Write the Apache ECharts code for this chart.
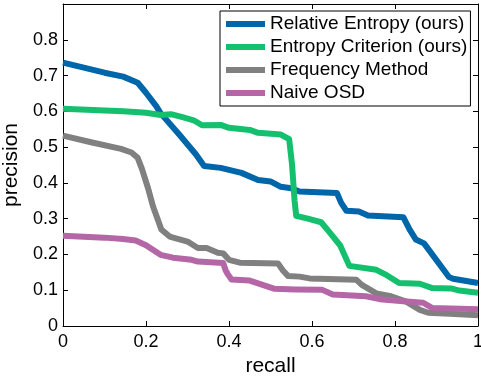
<!DOCTYPE html>
<html>
<head>
<meta charset="utf-8">
<script src="https://cdn.jsdelivr.net/npm/echarts@6/dist/echarts.min.js"></script>
<style>html,body{margin:0;padding:0;background:#fff;}#c{width:481px;height:377px;}</style>
</head>
<body>
<div id="c"></div>
<script>
var seriesNames = ['Relative Entropy (ours)', 'Entropy Criterion (ours)', 'Frequency Method', 'Naive OSD'];
var xTicks = [0, 0.2, 0.4, 0.6, 0.8, 1];
var yTicks = [0, 0.1, 0.2, 0.3, 0.4, 0.5, 0.6, 0.7, 0.8];

var relativeEntropy = [[0,0.736],[0.05,0.722],[0.1,0.708],[0.145,0.697],[0.18,0.68],[0.2,0.652],[0.225,0.614],[0.235,0.595],[0.28,0.535],[0.32,0.48],[0.34,0.447],[0.38,0.442],[0.43,0.428],[0.47,0.408],[0.5,0.404],[0.525,0.389],[0.55,0.385],[0.57,0.376],[0.66,0.372],[0.67,0.345],[0.683,0.322],[0.713,0.32],[0.735,0.309],[0.82,0.304],[0.835,0.27],[0.85,0.242],[0.87,0.231],[0.93,0.137],[0.94,0.132],[1,0.12]];
var entropyCriterion = [[0,0.607],[0.1,0.602],[0.145,0.600],[0.2,0.596],[0.235,0.59],[0.26,0.592],[0.29,0.583],[0.315,0.575],[0.335,0.561],[0.38,0.562],[0.4,0.554],[0.45,0.548],[0.47,0.540],[0.525,0.535],[0.545,0.522],[0.552,0.45],[0.558,0.35],[0.562,0.308],[0.59,0.300],[0.622,0.29],[0.64,0.265],[0.668,0.225],[0.69,0.168],[0.755,0.157],[0.78,0.142],[0.81,0.12],[0.86,0.118],[0.89,0.106],[0.935,0.105],[0.955,0.099],[1,0.093]];
var frequencyMethod = [[0,0.532],[0.07,0.513],[0.14,0.495],[0.165,0.485],[0.18,0.47],[0.19,0.44],[0.205,0.385],[0.217,0.334],[0.237,0.27],[0.257,0.25],[0.3,0.236],[0.325,0.218],[0.346,0.218],[0.373,0.205],[0.386,0.203],[0.4,0.185],[0.426,0.177],[0.518,0.175],[0.53,0.155],[0.542,0.14],[0.57,0.138],[0.594,0.133],[0.707,0.129],[0.72,0.115],[0.755,0.091],[0.787,0.084],[0.827,0.068],[0.86,0.045],[0.88,0.037],[0.932,0.034],[1,0.03]];
var naiveOSD = [[0,0.252],[0.1,0.247],[0.145,0.243],[0.175,0.239],[0.2,0.226],[0.235,0.199],[0.265,0.191],[0.31,0.185],[0.325,0.18],[0.386,0.176],[0.392,0.155],[0.397,0.145],[0.406,0.13],[0.45,0.127],[0.51,0.104],[0.56,0.102],[0.625,0.101],[0.65,0.088],[0.73,0.083],[0.763,0.075],[0.82,0.069],[0.868,0.065],[0.89,0.05],[1,0.047]];

var colors = ['#0066AA', '#14C06E', '#808080', '#B466A6'];
var FONT = 'Liberation Sans, Arial, sans-serif';

function fmt(v) { return String(Math.round(v * 10) / 10); }

var chart = echarts.init(document.getElementById('c'), null, {renderer: 'canvas'});
var dataList = [relativeEntropy, entropyCriterion, frequencyMethod, naiveOSD];
var axisCommon = {
  axisLine: {show: true, onZero: false, lineStyle: {color: '#000', width: 1}},
  axisTick: {show: true, inside: true, length: 5, lineStyle: {color: '#000', width: 1}},
  splitLine: {show: false}
};
chart.setOption({
  animation: false,
  color: colors,
  grid: {left: 63, right: 3, top: 4, bottom: 51, containLabel: false, outerBoundsMode: 'none'},
  legend: {
    orient: 'vertical', left: 220, top: 11,
    data: seriesNames,
    icon: 'rect', itemWidth: 39, itemHeight: 6, itemGap: 3, itemTextGap: 3,
    padding: [3, 3, 3, 6],
    borderColor: '#000', borderWidth: 1, backgroundColor: '#fff',
    textStyle: {fontFamily: FONT, fontSize: 19, color: '#000', lineHeight: 20}
  },
  xAxis: [
    Object.assign({
      type: 'value', min: 0, max: 1, interval: 0.2, position: 'bottom',
      name: 'recall', nameLocation: 'middle', nameGap: 26,
      nameTextStyle: {fontFamily: FONT, fontSize: 21, color: '#000'},
      axisLabel: {fontFamily: FONT, fontSize: 18, color: '#000', margin: 7,
        formatter: function (v) { return fmt(v); }}
    }, axisCommon),
    Object.assign({
      type: 'value', min: 0, max: 1, interval: 0.2, position: 'top',
      axisLabel: {show: false}
    }, axisCommon)
  ],
  yAxis: [
    Object.assign({
      type: 'value', min: 0, max: 0.9, interval: 0.1, position: 'left',
      name: 'precision', nameLocation: 'middle', nameGap: 32, nameRotate: 90,
      nameTextStyle: {fontFamily: FONT, fontSize: 21, color: '#000'},
      axisLabel: {fontFamily: FONT, fontSize: 18, color: '#000', margin: 5,
        formatter: function (v) {
          var r = Math.round(v * 10) / 10;
          return yTicks.indexOf(r) >= 0 ? fmt(r) : '';
        }}
    }, axisCommon),
    Object.assign({
      type: 'value', min: 0, max: 0.9, interval: 0.1, position: 'right',
      axisLabel: {show: false}
    }, axisCommon)
  ],
  series: seriesNames.map(function (n, i) {
    return {
      name: n, type: 'line', data: dataList[i],
      xAxisIndex: 0, yAxisIndex: 0,
      showSymbol: false, symbol: 'none', smooth: false,
      lineStyle: {width: 6, color: colors[i], join: 'round', cap: 'butt'},
      itemStyle: {color: colors[i]},
      emphasis: {disabled: true}
    };
  })
});
</script>
</body>
</html>
